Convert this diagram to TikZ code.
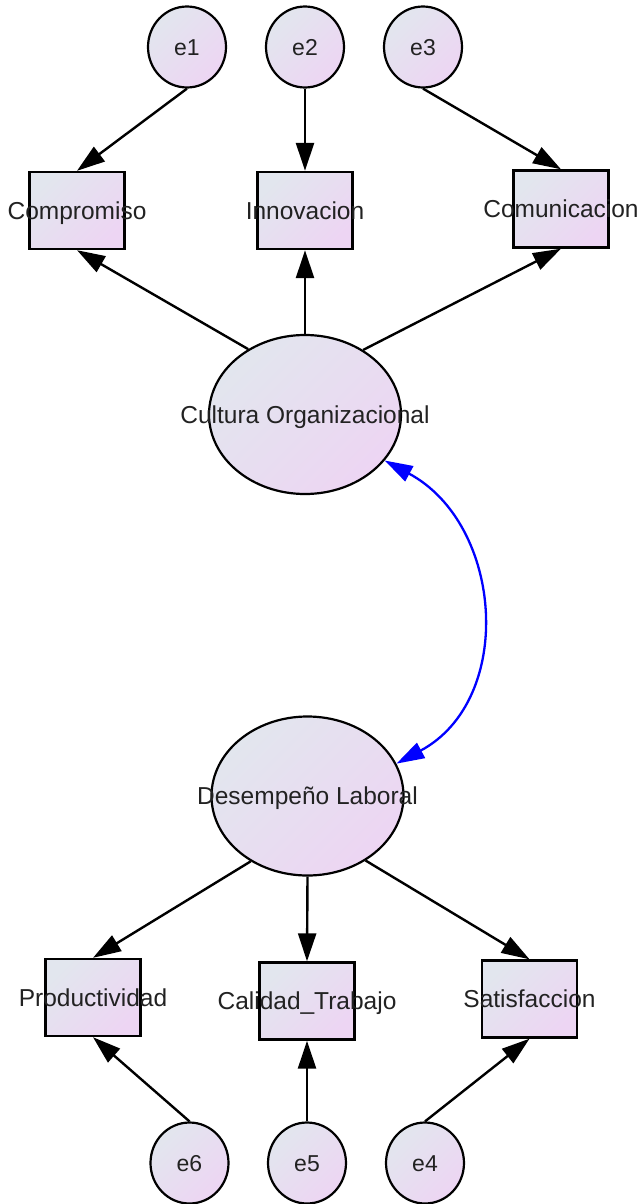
\documentclass[tikz,border=0pt]{standalone}
\usepackage{fontspec}
\setmainfont{Liberation Sans}
\usetikzlibrary{arrows.meta,calc,shapes.geometric}
\definecolor{fillA}{RGB}{226,230,238}
\definecolor{fillB}{RGB}{237,213,243}
\definecolor{ink}{RGB}{34,34,34}
\definecolor{covblue}{RGB}{0,0,255}
\tikzset{
  pastel/.style={top color=fillA, bottom color=fillB, shading angle=45},
  lbl/.style={font=\fontsize{24.5}{28}\selectfont, text=ink, inner sep=0pt,
    text height=17.5pt, text depth=0pt},
  elbl/.style={font=\fontsize{23}{26}\selectfont, text=ink, inner sep=0pt,
    text height=16.5pt, text depth=0pt},
  obs/.style={rectangle, draw=black, line width=2.4pt, minimum width=95pt,
    minimum height=77pt, inner sep=0pt, pastel},
  latent/.style={ellipse, draw=black, line width=2.2pt, minimum width=192pt,
    minimum height=159pt, inner sep=0pt, pastel},
  errterm/.style={ellipse, draw=black, line width=2.2pt, minimum width=78pt,
    minimum height=81pt, inner sep=0pt, pastel},
  link/.style={draw=black, line width=2.4pt, -{Triangle[length=28pt,width=18pt]}},
  cov/.style={draw=covblue, line width=2.3pt,
    {Triangle[length=28pt,width=17pt]}-{Triangle[length=28pt,width=17pt]}}
}
\begin{document}
\begin{tikzpicture}[x=1pt,y=-1pt]
\useasboundingbox (0,0) rectangle (642,1204);

% error terms of the first factor
\node[errterm, label={[elbl]center:e1}] (e1) at (187,47) {};
\node[errterm, label={[elbl]center:e2}] (e2) at (305,47) {};
\node[errterm, label={[elbl]center:e3}] (e3) at (423,47) {};

% indicators of Cultura Organizacional
\node[obs, label={[lbl]center:Compromiso}] (com) at (77,210.5) {};
\node[obs, label={[lbl]center:Innovacion}] (inn) at (305,210.5) {};
\node[obs, label={[lbl]center:Comunicacion}] (cmn) at (561,209) {};

% latent factors
\node[latent, label={[lbl]center:Cultura Organizacional}] (co) at (305,414.5) {};
\node[latent, label={[lbl]center:Desempeño Laboral}] (dl) at (307.5,796) {};

% indicators of Desempeño Laboral
\node[obs, label={[lbl]center:Productividad}] (pro) at (93,997.5) {};
\node[obs, label={[lbl]center:Calidad\_Trabajo}] (cal) at (307,1001) {};
\node[obs, label={[lbl]center:Satisfaccion}] (sat) at (529.5,999) {};

% error terms of the second factor
\node[errterm, label={[elbl]center:e6}] (e6) at (189.5,1163) {};
\node[errterm, label={[elbl]center:e5}] (e5) at (307,1163) {};
\node[errterm, label={[elbl]center:e4}] (e4) at (425,1163) {};

% error paths
\draw[link] (e1.south) -- (com.north);
\draw[link] (e2.south) -- (inn.north);
\draw[link] (e3.south) -- (cmn.north);
\draw[link] (e6.north) -- (pro.south);
\draw[link] (e5.north) -- (cal.south);
\draw[link] (e4.north) -- (sat.south);

% factor loadings
\draw[link] (co.131.5) -- (com.south);
\draw[link] (co.north) -- (inn.south);
\draw[link] (co.48.5) -- (cmn.south);
\draw[link] (dl.-131.5) -- (pro.north);
\draw[link] (dl.south) -- (cal.north);
\draw[link] (dl.-48.5) -- (sat.north);

% covariance between the factors
\draw[cov] (co.-30) .. controls +(119,64) and +(119,-64) .. (dl.20);
\end{tikzpicture}
\end{document}
